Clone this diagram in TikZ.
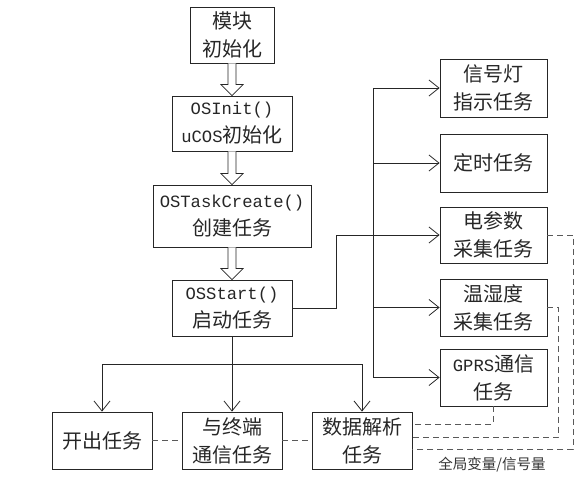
\documentclass[tikz,border=0pt]{standalone}
\usepackage{fontspec}
\setmainfont{Noto Sans CJK SC}
\newfontfamily\latfont{Liberation Mono}
\usetikzlibrary{arrows.meta,calc}
\newcommand{\lat}[1]{{\latfont\fontsize{17.2}{28}\selectfont #1}}
\newcommand{\hollowarrow}[2]{%
  \draw[fill=white] ($(#1.south)+(-4,0)$) -- ($(#2.north)+(-4,11)$) -- ($(#2.north)+(-11,11)$) -- (#2.north)
    -- ($(#2.north)+(11,11)$) -- ($(#2.north)+(4,11)$) -- ($(#1.south)+(4,0)$);}
\begin{document}
\begin{tikzpicture}[x=1pt, y=1pt, line width=0.8pt, draw=black!85, font=\fontsize{20}{28}\selectfont, >={Straight Barb[length=10pt,width=16pt]}]
	\tikzset{box/.style={draw, align=center, inner sep=0pt, text=black!85, minimum width=100pt, minimum height=57pt},
		share/.style={dash pattern=on 6pt off 4pt, gray!70!black}}
	\useasboundingbox (0,0) rectangle (588,479);
	\node[box, minimum width=84pt, minimum height=56pt] (init) at (232,444) {模块\\初始化};
	\node[box, minimum width=120pt, minimum height=55pt] (osinit) at (232,355.5) {\lat{OSInit()}\\\lat{uCOS}初始化};
	\node[box, minimum width=158pt, minimum height=62pt] (create) at (232,263) {\lat{OSTaskCreate()}\\创建任务};
	\node[box, minimum width=120pt, minimum height=56pt] (start) at (232,171) {\lat{OSStart()}\\启动任务};
	\node[box, minimum width=107pt, minimum height=58pt] (light) at (493.5,391) {信号灯\\指示任务};
	\node[box, minimum width=107pt, minimum height=58pt] (timer) at (493.5,316) {定时任务};
	\node[box, minimum width=107pt, minimum height=56pt] (power) at (493.5,244) {电参数\\采集任务};
	\node[box, minimum width=107pt] (temp) at (493.5,171.5) {温湿度\\采集任务};
	\node[box, minimum width=107pt] (gprs) at (493.5,101.5) {\lat{GPRS}通信\\任务};
	\node[box] (out) at (102,38.5) {开出任务};
	\node[box] (comm) at (232,38.5) {与终端\\通信任务};
	\node[box] (parse) at (362,38.5) {数据解析\\任务};
	\node[font=\fontsize{14.5}{16}\selectfont, text=black!80] (note) at (492,14) {全局变量/信号量};
	\hollowarrow{init}{osinit}
	\hollowarrow{osinit}{create}
	\hollowarrow{create}{start}
	\draw[->] (start.east) -- ++(44,0) |- (power.west);
	\coordinate (bus) at (373,0);
	\draw (bus |- light.west) -- (bus |- gprs.west);
	\foreach \t in {light,timer,temp,gprs}
		\draw[->] (bus |- \t.west) -- (\t.west);
	\draw[->] (start.south) -- (comm.north);
	\draw[->] (start.south) -- ++(0,-28) -| (out.north);
	\draw[->] (start.south) -- ++(0,-28) -| (parse.north);
	\draw[share] (out) -- (comm);
	\draw[share] (comm) -- (parse);
	\draw[share] (gprs.south) |- ([yshift=16.5pt]parse.east);
	\draw[share] (temp.east) -- ++(11,0) |- ([yshift=3.5pt]parse.east);
	\draw[share] (power.east) -- ++(26,0) |- ([yshift=-8.5pt]parse.east);
\end{tikzpicture}
\end{document}
